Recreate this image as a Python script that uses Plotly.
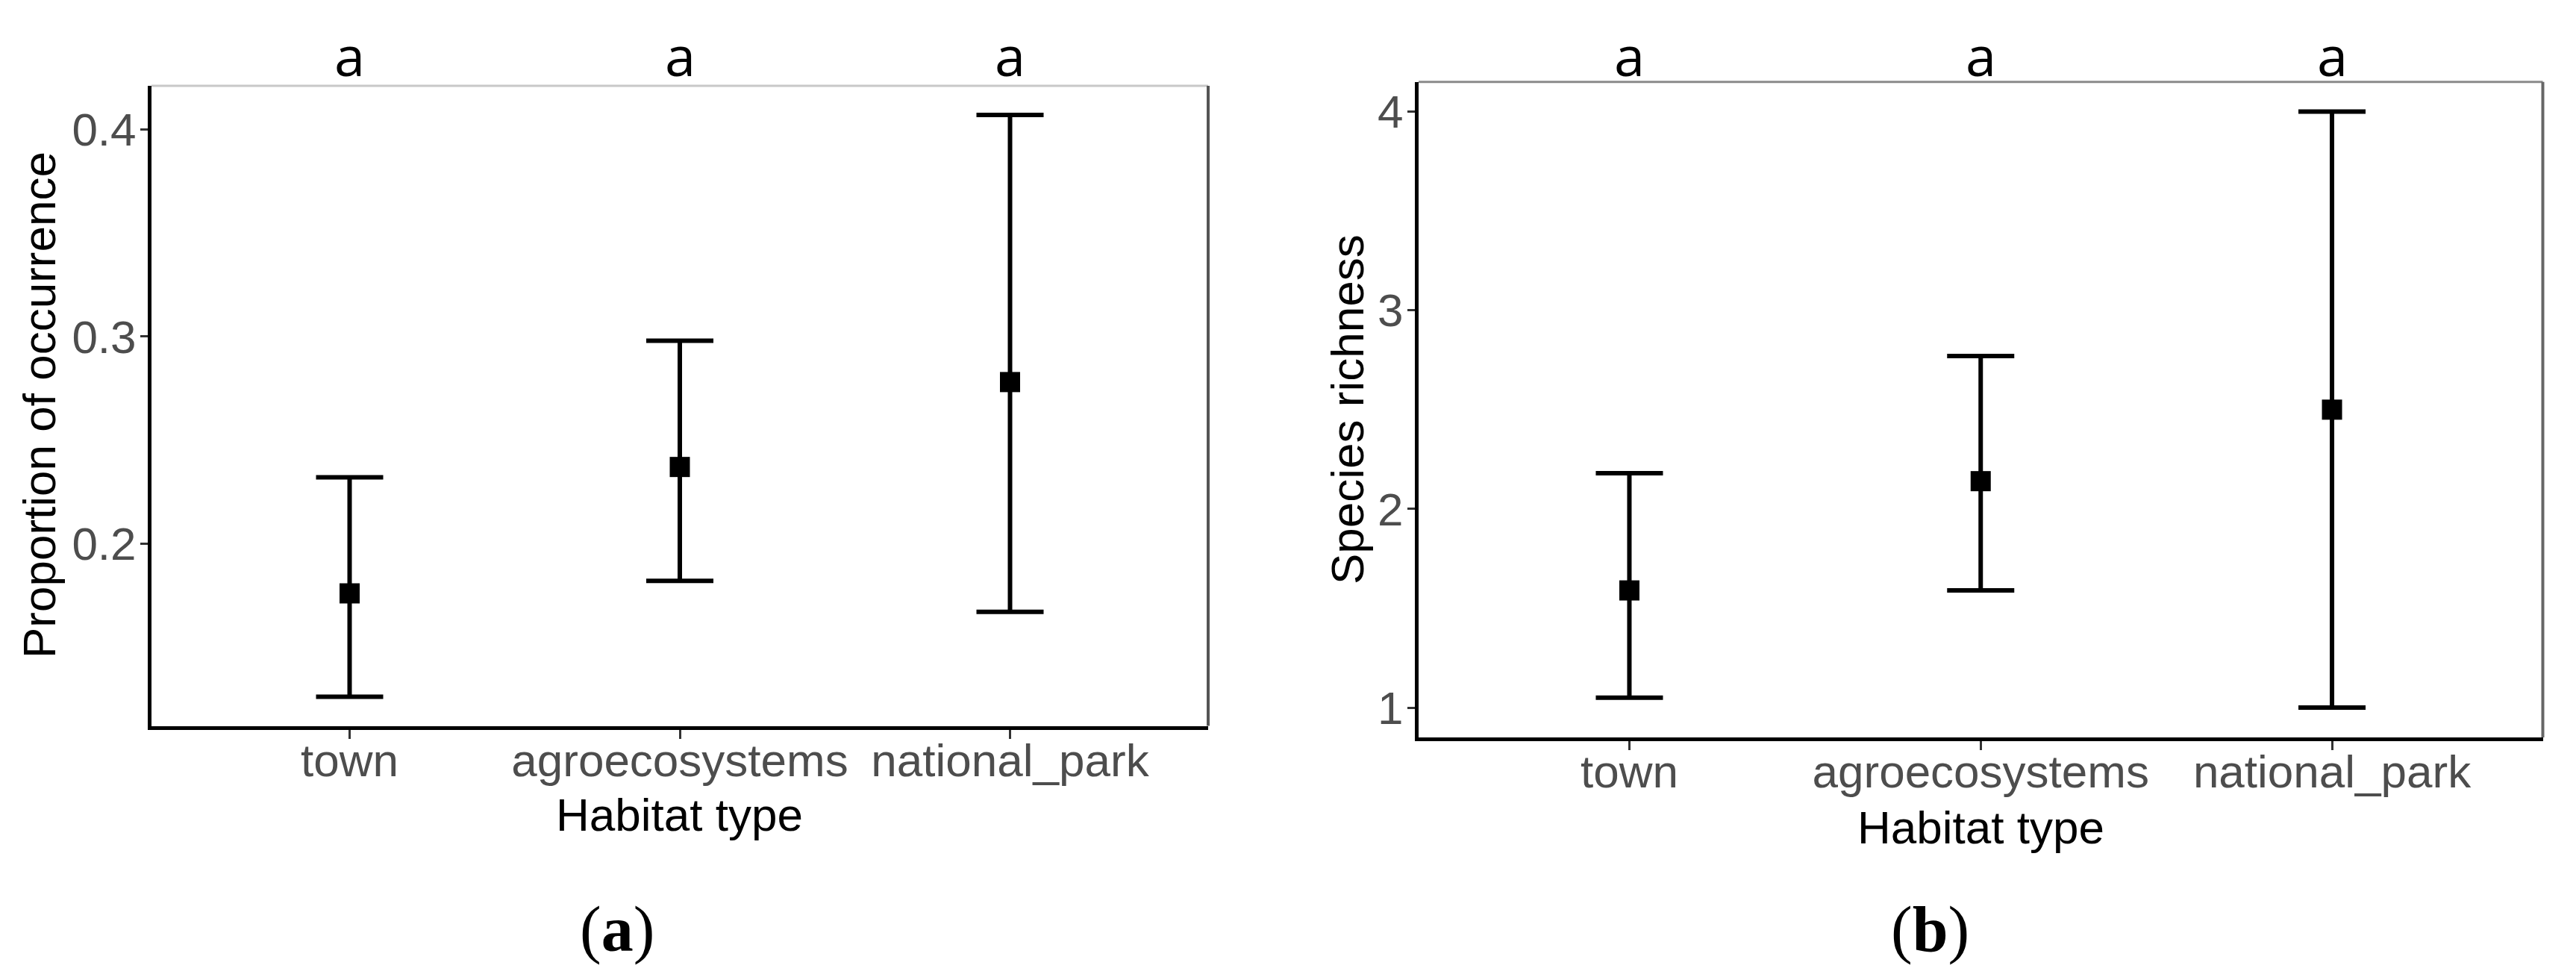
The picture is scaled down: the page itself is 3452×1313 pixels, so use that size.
import plotly.graph_objects as go

# Habitat categories shared by both panels
habitats = ["town", "agroecosystems", "national_park"]

# Panel (a): proportion of occurrence (mean with lower / upper interval)
occ_mean = [0.176, 0.237, 0.278]
occ_low = [0.126, 0.182, 0.167]
occ_high = [0.232, 0.298, 0.407]
occ_ticks = [0.2, 0.3, 0.4]

# Panel (b): species richness (mean with lower / upper interval)
rich_mean = [1.59, 2.14, 2.50]
rich_low = [1.05, 1.59, 1.00]
rich_high = [2.18, 2.77, 4.00]
rich_ticks = [1, 2, 3, 4]

# Significance letters above each group
letters_a = ["a", "a", "a"]
letters_b = ["a", "a", "a"]

W, H = 3452, 1313
xpos = [1, 2, 3]


def px(x):
    return x / W


def py(y):
    return 1 - y / H


def padded(lo, hi, frac=0.05):
    span = hi - lo
    return [lo - frac * span, hi + frac * span]


fig = go.Figure()

for ax, mean, low, high in [("", occ_mean, occ_low, occ_high),
                            ("2", rich_mean, rich_low, rich_high)]:
    fig.add_trace(go.Scatter(
        x=xpos, y=mean, mode="markers",
        xaxis="x" + ax, yaxis="y" + ax,
        marker=dict(symbol="square", size=27, color="black"),
        error_y=dict(type="data", symmetric=False,
                     array=[h - m for h, m in zip(high, mean)],
                     arrayminus=[m - l for m, l in zip(mean, low)],
                     color="black", thickness=6, width=45),
        showlegend=False, hoverinfo="skip",
    ))

tick_font = dict(family="Liberation Sans, Arial, sans-serif", size=62, color="#4D4D4D")
xaxis_common = dict(
    range=[0.4, 3.6], tickmode="array", tickvals=xpos, ticktext=habitats,
    showgrid=False, zeroline=False, showline=True, linecolor="black", linewidth=5,
    ticks="outside", ticklen=12, tickwidth=3, tickcolor="#333333",
    tickfont=tick_font, ticklabelstandoff=-24, fixedrange=True,
)
yaxis_common = dict(
    showgrid=False, zeroline=False, showline=True, linecolor="black", linewidth=5,
    ticks="outside", ticklen=10, tickwidth=3, tickcolor="#333333",
    tickfont=tick_font, ticklabelstandoff=-7, fixedrange=True,
)

fig.update_layout(
    width=W, height=H,
    margin=dict(l=0, r=0, t=0, b=0),
    paper_bgcolor="white", plot_bgcolor="white",
    xaxis=dict(domain=[px(203), px(1619)], anchor="y", **xaxis_common),
    yaxis=dict(domain=[py(972.6), py(115)], anchor="x",
               range=padded(min(occ_low), max(occ_high)),
               tickmode="array", tickvals=occ_ticks,
               ticktext=[f"{v:.1f}" for v in occ_ticks], **yaxis_common),
    xaxis2=dict(domain=[px(1901), px(3407.5)], anchor="y2", **xaxis_common),
    yaxis2=dict(domain=[py(988), py(109.7)], anchor="x2",
                range=padded(min(rich_low), max(rich_high)),
                tickmode="array", tickvals=rich_ticks,
                ticktext=[str(v) for v in rich_ticks], **yaxis_common),
)

# Panel borders (top and right edges in grey)
shapes = []
for ax, top_col, right_col in [("", "#c8c8c8", "#555555"), ("2", "#8a8a8a", "#666666")]:
    xr, yr = "x" + ax + " domain", "y" + ax + " domain"
    shapes.append(dict(type="line", xref=xr, yref=yr, x0=0, x1=1, y0=1, y1=1,
                       line=dict(color=top_col, width=3), layer="below"))
    shapes.append(dict(type="line", xref=xr, yref=yr, x0=1, x1=1, y0=0, y1=1,
                       line=dict(color=right_col, width=4), layer="below"))
fig.update_layout(shapes=shapes)

annotations = []
title_font = dict(family="Liberation Sans, Arial, sans-serif", size=62, color="black")
letter_font = dict(family="Open Sans, Noto Sans, sans-serif", size=74, color="black")
panel_font = dict(family="Liberation Serif, Times New Roman, serif", size=86, color="black")

# Letters above groups
for ax, letters in [("", letters_a), ("2", letters_b)]:
    for xv, lt in zip(xpos, letters):
        annotations.append(dict(x=xv, xref="x" + ax, y=py(74), yref="paper",
                                text=lt, showarrow=False, font=letter_font,
                                xanchor="center", yanchor="middle"))

# Axis titles and panel labels
annotations += [
    dict(x=px(910), y=py(1091), xref="paper", yref="paper", text="Habitat type",
         showarrow=False, font=title_font, xanchor="center", yanchor="middle"),
    dict(x=px(2654), y=py(1108), xref="paper", yref="paper", text="Habitat type",
         showarrow=False, font=title_font, xanchor="center", yanchor="middle"),
    dict(x=px(52), y=py(543), xref="paper", yref="paper", text="Proportion of occurrence",
         textangle=-90, showarrow=False, font=title_font, xanchor="center", yanchor="middle"),
    dict(x=px(1805), y=py(549), xref="paper", yref="paper", text="Species richness",
         textangle=-90, showarrow=False, font=title_font, xanchor="center", yanchor="middle"),
    dict(x=px(827), y=py(1245), xref="paper", yref="paper", text="(<b>a</b>)",
         showarrow=False, font=panel_font, xanchor="center", yanchor="middle"),
    dict(x=px(2586), y=py(1245), xref="paper", yref="paper", text="(<b>b</b>)",
         showarrow=False, font=panel_font, xanchor="center", yanchor="middle"),
]
fig.update_layout(annotations=annotations)

fig.write_html("out.html")
